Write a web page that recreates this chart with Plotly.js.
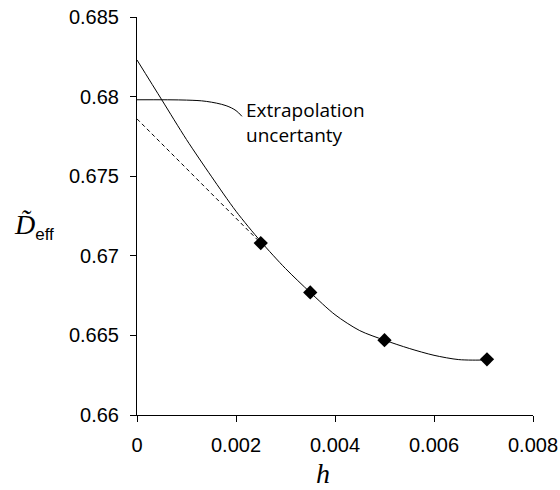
<!DOCTYPE html>
<html>
<head>
<meta charset="utf-8">
<script src="https://cdn.plot.ly/plotly-3.0.1.min.js"></script>
<style>html,body{margin:0;padding:0;background:#fff;}#chart{width:560px;height:490px;}</style>
</head>
<body>
<div id="chart"></div>
<script>
// Measured points
var pointH = [0.0025, 0.0035, 0.005, 0.00707];
var pointD = [0.6708, 0.6677, 0.6647, 0.6635];

// Fitted curve
var fitH = [0, 0.0005, 0.001, 0.0015, 0.002, 0.0025, 0.003, 0.0035, 0.004, 0.0045, 0.005, 0.0055, 0.006, 0.0065, 0.007, 0.00707];
var fitD = [0.6823, 0.6798, 0.6773, 0.6750, 0.6728, 0.6709, 0.6692, 0.6677, 0.6663, 0.6653, 0.6647, 0.66418, 0.66375, 0.66348, 0.66346, 0.6635];

// Linear extrapolation (dashed)
var linH = [0, 0.0025];
var linD = [0.6786, 0.6708];

// Bracket line for the annotation
var bracketH = [0, 0.001, 0.0014, 0.0018, 0.002, 0.00212];
var bracketD = [0.6798, 0.67978, 0.6797, 0.67943, 0.67912, 0.67876];

var xTickVals = [0, 0.002, 0.004, 0.006, 0.008];
var xTickText = ["0", "0.002", "0.004", "0.006", "0.008"];
var yTickVals = [0.66, 0.665, 0.67, 0.675, 0.68, 0.685];
var yTickText = ["0.66", "0.665", "0.67", "0.675", "0.68", "0.685"];

var traces = [
  {x: fitH, y: fitD, mode: 'lines', line: {color: '#000', width: 1, shape: 'spline', smoothing: 0.8}, hoverinfo: 'skip'},
  {x: linH, y: linD, mode: 'lines', line: {color: '#000', width: 1, dash: '4px,3px'}, hoverinfo: 'skip'},
  {x: bracketH, y: bracketD, mode: 'lines', line: {color: '#000', width: 1, shape: 'spline', smoothing: 1}, hoverinfo: 'skip'},
  {x: pointH, y: pointD, mode: 'markers', marker: {symbol: 'diamond', size: 11, color: '#000'}}
];

var tickFont = {family: '"Liberation Sans", Arial, sans-serif', size: 20, color: '#000'};

var layout = {
  width: 560, height: 490,
  margin: {l: 137, r: 27, t: 17, b: 75},
  paper_bgcolor: '#fff', plot_bgcolor: '#fff',
  showlegend: false,
  xaxis: {
    range: [0, 0.008], tickvals: xTickVals, ticktext: xTickText,
    showgrid: false, zeroline: false, showline: true, linecolor: '#000', linewidth: 1,
    ticks: 'outside', ticklen: 6, tickcolor: '#000', tickfont: tickFont, ticklabelstandoff: 6
  },
  yaxis: {
    range: [0.66, 0.685], tickvals: yTickVals, ticktext: yTickText,
    showgrid: false, zeroline: false, showline: true, linecolor: '#000', linewidth: 1,
    ticks: 'outside', ticklen: 6, tickcolor: '#000', tickfont: tickFont, ticklabelstandoff: 7
  },
  annotations: [
    {text: 'Extrapolation<br>uncertanty', xref: 'paper', yref: 'paper', x: (245-137)/398, y: 1 - (95-17)/398,
     xanchor: 'left', yanchor: 'top', align: 'left', showarrow: false,
     font: {family: '"Open Sans", "Noto Sans", sans-serif', size: 19, color: '#000'}},
    {text: '<i>D\u0303</i><sub><span style="font-family:\'Liberation Sans\',Arial,sans-serif;font-style:normal;font-size:17px">eff</span></sub>',
     xref: 'paper', yref: 'paper', x: (12-137)/396, y: 1 - (226-17)/398,
     xanchor: 'left', yanchor: 'middle', showarrow: false,
     font: {family: '"Liberation Serif", "Times New Roman", serif', size: 28, color: '#000'}},
    {text: '<i>h</i>', xref: 'paper', yref: 'paper', x: (323-137)/396, y: 1 - (473-17)/398,
     xanchor: 'center', yanchor: 'middle', showarrow: false,
     font: {family: '"Liberation Serif", "Times New Roman", serif', size: 28, color: '#000'}}
  ]
};

Plotly.newPlot('chart', traces, layout, {staticPlot: true, displayModeBar: false});
</script>
</body>
</html>
